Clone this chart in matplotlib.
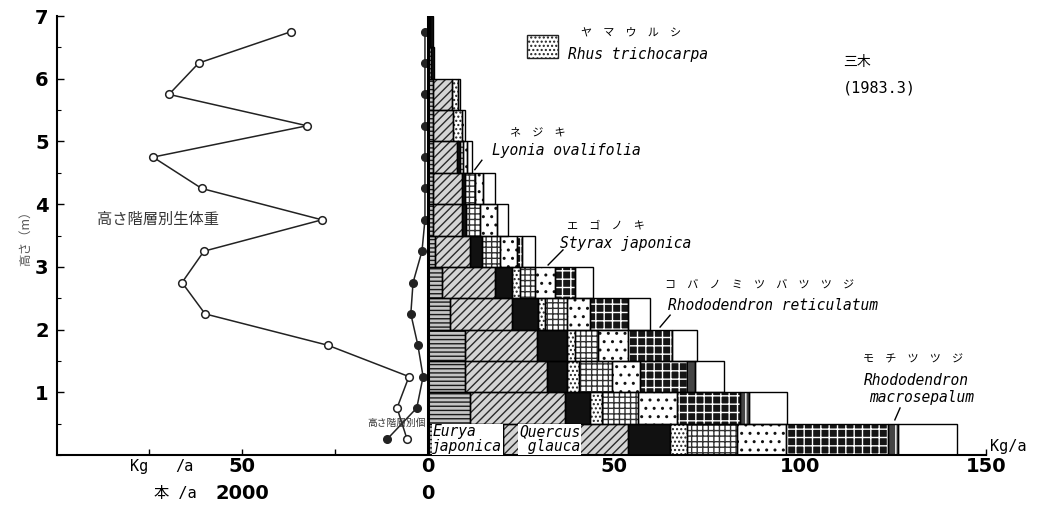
import matplotlib
matplotlib.use('Agg')
import matplotlib.pyplot as plt
from matplotlib.ticker import MultipleLocator
import numpy as np

plt.rcParams['font.family'] = ['DejaVu Sans', 'Noto Sans CJK JP']
plt.rcParams['hatch.linewidth'] = 1.0

#--- height classes (m), 0.5 m steps
layer_bottom = np.arange(0.0, 7.0, 0.5)
layer_mid = layer_bottom + 0.25

#--- left panel lines (drawn to the left of zero, Kg/a scale)
open_line = [5.6, 8.3, 5.1, 26.9, 59.9, 66.1, 60.2, 28.5, 60.8, 73.9, 32.5, 69.6, 61.6, 36.8]
filled_line = [11.0, 3.0, 1.3, 2.7, 4.6, 4.0, 1.6, 0.8, 0.8, 0.8, 0.8, 0.8, 0.8, 0.8]

#--- right panel: biomass per species and height class (Kg/a)
eurya   = [20.2, 11.3, 9.9, 9.9, 5.9, 3.8, 1.9, 1.3, 1.3, 1.3, 1.3, 1.3, 0.8, 0.5]
quercus = [33.6, 25.5, 22.0, 19.4, 16.7, 14.2, 9.4, 7.8, 7.8, 6.5, 5.4, 5.1, 0, 0]
black   = [11.3, 6.7, 5.4, 8.1, 7.0, 4.6, 3.2, 1.1, 0.8, 0.8, 0, 0, 0.8, 0.8]
fine    = [4.6, 3.2, 3.2, 2.2, 1.9, 2.2, 0, 0, 0, 0, 2.4, 1.6, 0, 0]
grid    = [13.4, 9.7, 9.1, 6.2, 5.9, 4.0, 4.8, 3.8, 2.7, 0.8, 0, 0, 0, 0]
sparse  = [13.2, 10.5, 7.5, 8.1, 6.2, 5.4, 4.6, 4.6, 2.2, 1.1, 0.8, 0, 0, 0]
crosses = [27.4, 16.9, 12.6, 11.8, 10.2, 5.4, 1.3, 0, 0, 0, 0, 0, 0, 0]
macro   = [2.7, 2.4, 2.2, 0, 0, 0, 0, 0, 0, 0, 0, 0, 0, 0]
white   = [15.9, 10.2, 7.8, 6.5, 5.9, 4.8, 3.5, 3.0, 3.2, 1.3, 0, 0.5, 0, 0]

# (values, facecolor, hatch colour, hatch)
segments = [
    (eurya,   '#c4c4c4', '#1a1a1a', '----'),
    (quercus, '#d4d4d4', '#2a2a2a', '////'),
    (black,   '#111111', '#111111', None),
    (fine,    'white',   '#222222', '....'),
    (grid,    'white',   '#333333', '+++'),
    (sparse,  'white',   '#111111', '..'),
    (crosses, '#151515', 'white',   '++'),
    (macro,   '#444444', 'white',   '||'),
    (white,   'white',   'white',   None),
]

fig = plt.figure(figsize=(10.43, 5.09), dpi=100)
ax = fig.add_axes([57/1043, 54/509, 929/1043, 439/509])

#--- stacked bars
left = np.zeros(len(layer_bottom))
for vals, fc, hc, hatch in segments:
    vals = np.array(vals, dtype=float)
    m = vals > 0
    ax.barh(layer_bottom[m], vals[m], left=left[m], height=0.5, align='edge',
            facecolor=fc, edgecolor=hc, hatch=hatch, linewidth=0, zorder=2)
    ax.barh(layer_bottom[m], vals[m], left=left[m], height=0.5, align='edge',
            fill=False, edgecolor='black', linewidth=1.0, zorder=3)
    left = left + vals

#--- left panel lines
ax.plot(-np.array(open_line), layer_mid, color='#222222', lw=1.1, marker='o', ms=5.5,
        mfc='white', mec='#222222', mew=1.1, zorder=4, clip_on=False)
ax.plot(-np.array(filled_line), layer_mid, color='#222222', lw=1.1, marker='o', ms=5.5,
        mfc='#222222', mec='#222222', zorder=4, clip_on=False)

ax.axvline(0, 0, 1, color='black', lw=2.2, zorder=5)

#--- axes
ax.set_xlim(-99.7, 150)
ax.set_ylim(0, 7)
for s in ['top', 'right']:
    ax.spines[s].set_visible(False)
ax.spines['left'].set_linewidth(1.5)
ax.spines['bottom'].set_linewidth(1.5)
ax.yaxis.set_minor_locator(MultipleLocator(0.5))
ax.set_yticks([1, 2, 3, 4, 5, 6, 7])
ax.set_yticklabels(['1', '2', '3', '4', '5', '6', '7'], fontsize=14, fontweight='bold')
ax.tick_params(axis='y', which='major', direction='in', length=5, width=1, pad=6)
ax.tick_params(axis='y', which='minor', direction='in', length=3, width=0.8)
ax.set_xticks([-75, -50, -25, 50, 100, 150])
ax.set_xticklabels([''] * 6)
ax.tick_params(axis='x', direction='in', length=4, width=1)

num = dict(fontsize=14, fontweight='bold', ha='center', va='center')
row1 = -0.027
row2 = -0.087
tr = ax.get_xaxis_transform()
for xv, lab in [(-50, '50'), (0, '0'), (50, '50'), (100, '100'), (150, '150')]:
    ax.text(xv, row1, lab, transform=tr, **num)
for xv, lab in [(-50, '2000'), (0, '0')]:
    ax.text(xv, row2, lab, transform=tr, **num)
mono = dict(family=['DejaVu Sans Mono', 'Noto Sans CJK JP'], fontsize=11)
ax.text(-77.7, row1, 'Kg', transform=tr, ha='center', va='center', **mono)
ax.text(-65.6, row1, '/a', transform=tr, ha='center', va='center', **mono)
ax.text(-68.0, row2, '本 /a', transform=tr, ha='center', va='center', **mono)
ax.text(151.1, 0.13, 'Kg/a', ha='left', va='center', clip_on=False, **mono)

ax.set_ylabel('高さ（m）', family=['Noto Sans CJK JP'], fontsize=9, color='#555555', labelpad=2)

#--- annotations
it = dict(family='DejaVu Sans Mono', style='italic', fontsize=10.5)
kana = dict(family='Noto Sans CJK JP', fontsize=8, ha='center', va='center')

ax.add_patch(plt.Rectangle((26.6, 6.33), 8.3, 0.37, facecolor='white', edgecolor='#222222',
                           hatch='....', lw=1.0, zorder=3))
ax.text(54.6, 6.73, 'ヤ　マ　ウ　ル　シ', **kana)
ax.text(37.6, 6.38, 'Rhus trichocarpa', ha='left', va='center', **it)

ax.text(111.6, 6.27, '三木', family='Noto Sans CJK JP', fontsize=10, ha='left', va='center')
ax.text(111.6, 5.85, '(1983.3)', family='DejaVu Sans Mono', fontsize=11, ha='left', va='center')

ax.text(29.6, 5.14, 'ネ　ジ　キ', **kana)
ax.text(17.2, 4.85, 'Lyonia ovalifolia', ha='left', va='center', **it)
ax.plot([14.5, 12.6], [4.70, 4.55], color='black', lw=1)

ax.text(47.8, 3.67, 'エ　ゴ　ノ　キ', **kana)
ax.text(35.5, 3.38, 'Styrax japonica', ha='left', va='center', **it)
ax.plot([36.3, 32.3], [3.27, 3.03], color='black', lw=1)

ax.text(89.2, 2.71, 'コ　バ　ノ　ミ　ツ　バ　ツ　ツ　ジ', **kana)
ax.text(64.5, 2.38, 'Rhododendron reticulatum', ha='left', va='center', **it)
ax.plot([65.1, 62.4], [2.23, 2.04], color='black', lw=1)

ax.text(130.4, 1.52, 'モ　チ　ツ　ツ　ジ', **kana)
ax.text(131.2, 1.18, 'Rhododendron', ha='center', va='center', **it)
ax.text(132.8, 0.91, 'macrosepalum', ha='center', va='center', **it)
ax.plot([126.9, 125.5], [0.75, 0.56], color='black', lw=1)

box = dict(facecolor='white', edgecolor='none', pad=0.5)
ax.text(1.2, 0.25, 'Eurya\njaponica', ha='left', va='center', zorder=6, bbox=box,
        linespacing=1.0, **it)
ax.text(24.5, 0.25, 'Quercus\n glauca', ha='left', va='center', zorder=6, bbox=box,
        linespacing=1.0, **it)

ax.text(-89.0, 3.75, '高さ階層別生体重', family='Noto Sans CJK JP', fontsize=11,
        color='#333333', ha='left', va='center')
ax.text(-0.6, 0.51, '高さ階層別個', family='Noto Sans CJK JP', fontsize=7,
        color='#333333', ha='right', va='center', zorder=6)

fig.savefig('out.png', dpi=100)
